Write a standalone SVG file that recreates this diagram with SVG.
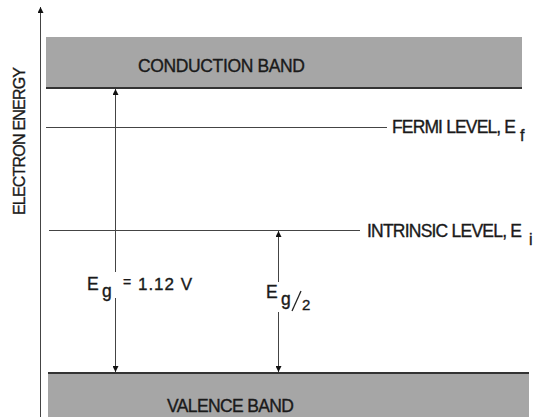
<svg xmlns="http://www.w3.org/2000/svg" width="538" height="417" viewBox="0 0 538 417">
<defs>
<style>
.t{font-family:"Liberation Sans",Arial,sans-serif;fill:#1a1a1a;stroke:#1a1a1a;stroke-width:0.35;}
.ln{stroke:#444;stroke-width:1;fill:none;}
.band{fill:#a6a6a6;}
.edge{stroke:#333;stroke-width:2;}
</style>
<marker id="ah" viewBox="0 0 10 10" refX="10" refY="5" markerWidth="6" markerHeight="6" orient="auto-start-reverse" markerUnits="userSpaceOnUse">
<path d="M0,0 L10,5 L0,10 Z" fill="#111"/>
</marker>
</defs>
<rect width="538" height="417" fill="#fff"/>
<g id="axis">
<line class="ln" x1="40.5" y1="417" x2="40.5" y2="7" marker-end="url(#ah)"/>
<text class="t" font-size="16" transform="translate(25,141) rotate(-90)" text-anchor="middle" textLength="148">ELECTRON ENERGY</text>
</g>
<g id="conduction-band">
<rect class="band" x="46" y="37" width="476" height="51"/>
<line class="edge" x1="46" y1="88" x2="522" y2="88"/>
<text class="t" font-size="17.5" x="138" y="71.5" textLength="167">CONDUCTION BAND</text>
</g>
<g id="valence-band">
<rect class="band" x="48" y="373" width="481" height="44"/>
<line class="edge" x1="48" y1="373" x2="529" y2="373"/>
<text class="t" font-size="17.5" x="167" y="412" textLength="127">VALENCE BAND</text>
</g>
<g id="fermi-level">
<line class="ln" x1="46" y1="127.5" x2="387" y2="127.5"/>
<text class="t" font-size="17.5" x="392" y="133" textLength="124">FERMI LEVEL, E</text>
<text class="t" font-size="16" x="520" y="141">f</text>
</g>
<g id="intrinsic-level">
<line class="ln" x1="49" y1="230.5" x2="360" y2="230.5"/>
<text class="t" font-size="17.5" x="367" y="237" textLength="155">INTRINSIC LEVEL, E</text>
<text class="t" font-size="16" x="529" y="245">i</text>
</g>
<g id="connectors">
<line class="ln" x1="115.5" y1="272" x2="115.5" y2="89" marker-end="url(#ah)"/>
<line class="ln" x1="115.5" y1="298" x2="115.5" y2="372" marker-end="url(#ah)"/>
<line class="ln" x1="278.5" y1="282" x2="278.5" y2="231" marker-end="url(#ah)"/>
<line class="ln" x1="278.5" y1="312" x2="278.5" y2="372" marker-end="url(#ah)"/>
</g>
<g id="eg-label">
<text class="t" font-size="17.5" x="87" y="290">E</text>
<text class="t" font-size="17.5" x="102" y="297">g</text>
<text class="t" font-size="14" x="123" y="287">=</text>
<text class="t" font-size="17" x="138" y="290" textLength="54">1.12 V</text>
</g>
<g id="eg2-label">
<text class="t" font-size="17.5" x="266" y="298">E</text>
<text class="t" font-size="17.5" x="281" y="305">g</text>
<line x1="292" y1="311" x2="301" y2="291" stroke="#222" stroke-width="1.3"/>
<text class="t" font-size="15" x="302" y="310">2</text>
</g>
</svg>
